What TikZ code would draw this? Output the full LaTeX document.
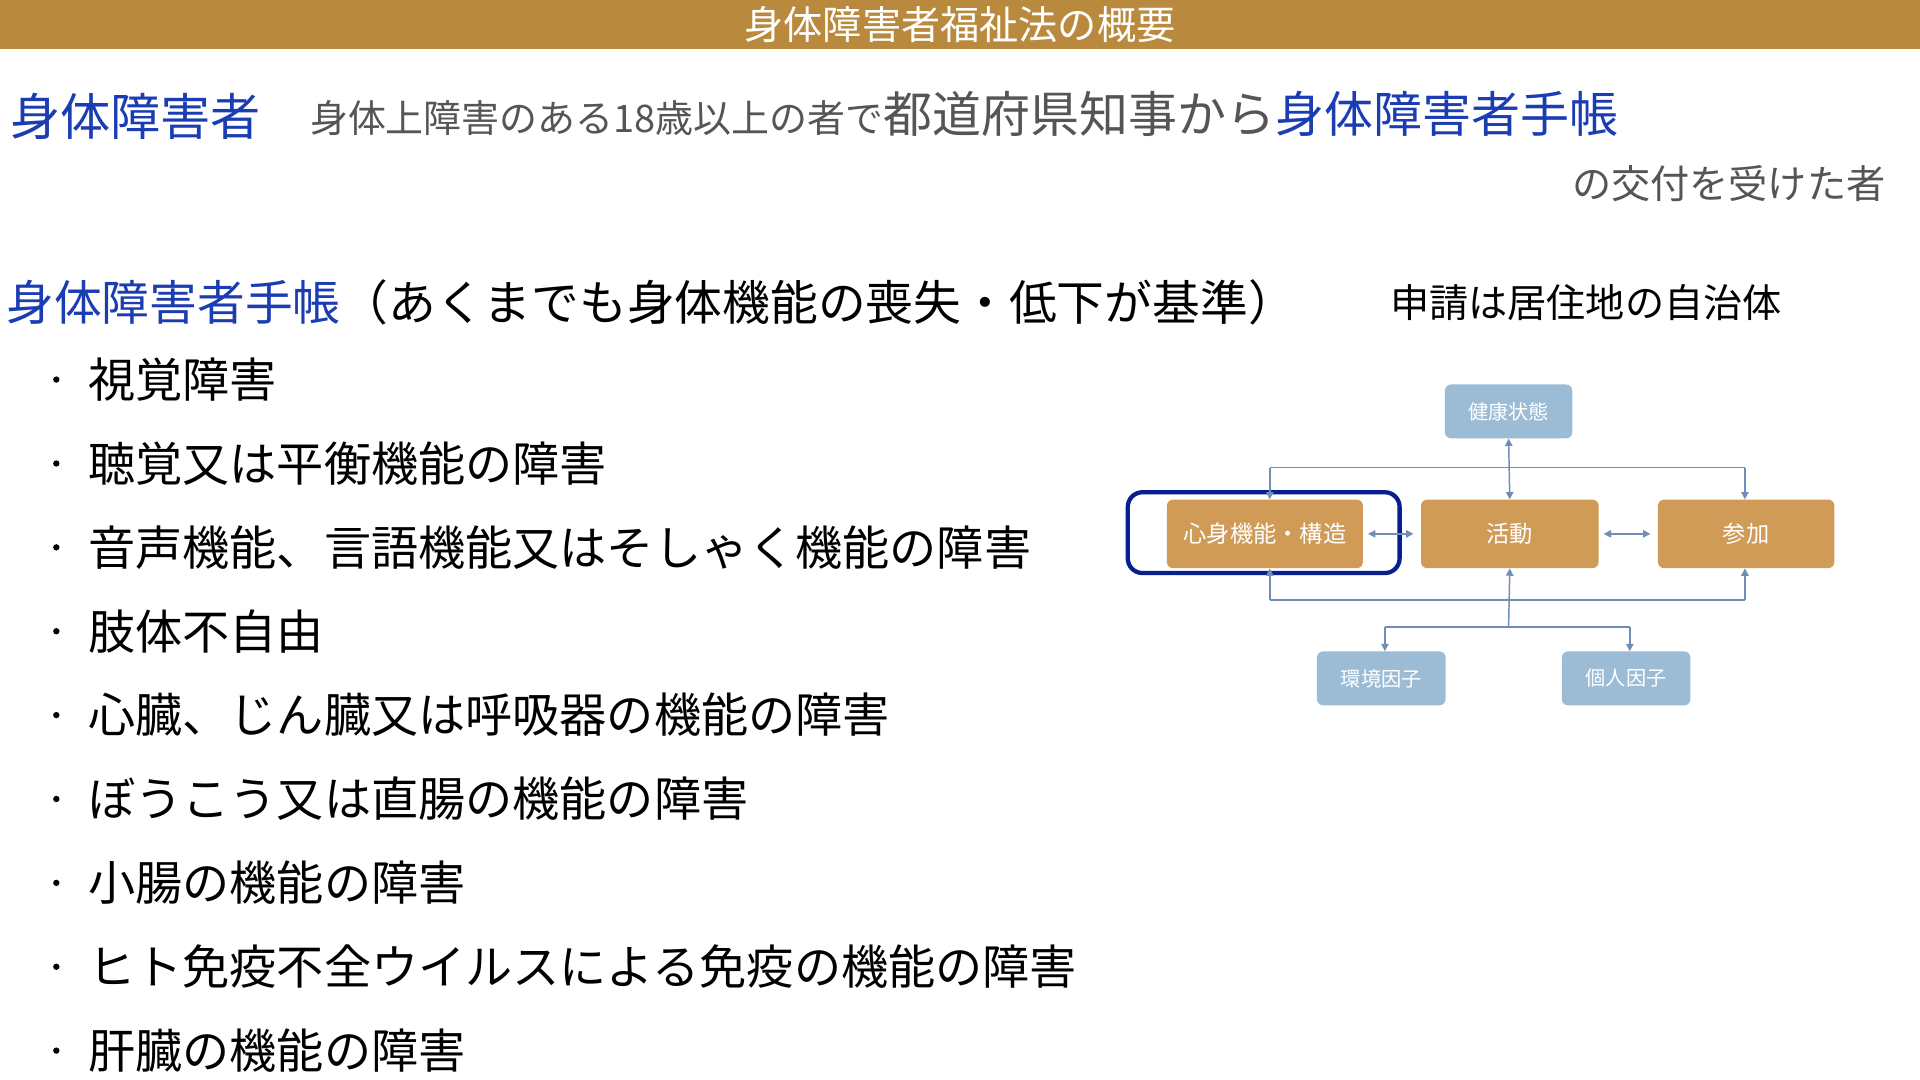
\documentclass[tikz,border=0pt]{standalone}
\usepackage{fontspec}
\setmainfont{Noto Sans CJK JP}
\usetikzlibrary{arrows.meta}
\definecolor{gold}{HTML}{B98A3E}
\definecolor{tblue}{HTML}{1B3DB4}
\definecolor{tgray}{HTML}{555555}
\definecolor{orb}{HTML}{D09B57}
\definecolor{lb}{HTML}{9CBCD6}
\definecolor{ln}{HTML}{6F8DB5}
\definecolor{navy}{HTML}{0A1F8F}
\newcommand{\fs}[1]{\fontsize{#1}{#1}\selectfont}
\begin{document}
\begin{tikzpicture}[x=1pt,y=-1pt,
  ob/.style={fill=orb,rounded corners=5pt,text=white,font=\fs{19},minimum height=56pt,inner sep=0pt},
  bb/.style={fill=lb,rounded corners=5pt,text=white,font=\fs{16.5},minimum width=105pt,minimum height=44pt,inner sep=0pt},
  bul/.style={anchor=west,font=\fs{38.5}},
  ar/.style={draw=ln,line width=1.2pt,-{Triangle[length=6pt,width=6pt]}},
  ln2/.style={draw=ln,line width=1.2pt}]
\useasboundingbox (0,0) rectangle (1568,882);
\fill[white] (0,0) rectangle (1568,882);
\fill[gold] (0,0) rectangle (1568,40);
\node[text=white,font=\fs{32}] (title) at (784,20) {身体障害者福祉法の概要};
\node[anchor=west,text=tblue,font=\fs{41},inner sep=0pt] (d1) at (8,95) {身体障害者};
\node[anchor=base west,inner sep=0pt] (d2) at (253,108) {\color{tgray}\fs{31}身体上障害のある18歳以上の者で\fs{40}都道府県知事から\color{tblue}身体障害者手帳};
\node[anchor=east,text=tgray,font=\fs{32},inner sep=0pt] (d3) at (1540,150) {の交付を受けた者};
\node[anchor=west,inner sep=0pt,font=\fs{39}] (h2) at (5,247) {\color{tblue}身体障害者手帳\color{black}（あくまでも身体機能の喪失・低下が基準）};
\node[anchor=west,inner sep=0pt,font=\fs{32}] (app) at (1135,247) {申請は居住地の自治体};
\foreach \t [count=\i] in {視覚障害,聴覚又は平衡機能の障害,音声機能、言語機能又はそしゃく機能の障害,肢体不自由,心臓、じん臓又は呼吸器の機能の障害,ぼうこう又は直腸の機能の障害,小腸の機能の障害,ヒト免疫不全ウイルスによる免疫の機能の障害,肝臓の機能の障害}{
  \node[bul,inner sep=0pt] (b\i) at (72,{310+68.5*(\i-1)}) {\t};
  \fill (46,{310+68.5*(\i-1)}) circle (2.6pt);
}
\node[bb,minimum width=104pt] (health) at (1232,336) {健康状態};
\node[ob,minimum width=160pt] (body) at (1033,436) {心身機能・構造};
\node[ob,minimum width=145pt] (act) at (1233,436) {活動};
\node[ob,minimum width=144pt] (part) at (1426,436) {参加};
\node[bb] (env) at (1128,554) {環境因子};
\node[bb] (pers) at (1328,554) {個人因子};
\draw[navy,line width=3.5pt,rounded corners=12pt] (921,402) rectangle (1143,468);
\coordinate (t1) at (1037,382); \coordinate (t2) at (1425,382);
\coordinate (u1) at (1037,490); \coordinate (u2) at (1425,490);
\coordinate (m1) at (1232,490); \coordinate (m2) at (1232,512);
\coordinate (e1) at (1131,512); \coordinate (e2) at (1331,512);
\draw[ar,{Triangle[length=6pt,width=6pt]}-{Triangle[length=6pt,width=6pt]}] (health.south) -- (act.north);
\draw[ln2] (t1) -- (t2);
\draw[ar] (t1) -- (t1 |- body.north);
\draw[ar] (t2) -- (t2 |- part.north);
\draw[ln2] (u1) -- (u2);
\draw[ar] (u1) -- (u1 |- body.south);
\draw[ar] (u2) -- (u2 |- part.south);
\draw[ar] (m2) -- (act.south);
\draw[ln2] (e1) -- (e2);
\draw[ar] (e1) -- (env.north -| e1);
\draw[ar] (e2) -- (pers.north -| e2);
\draw[ar,{Triangle[length=6pt,width=6pt]}-{Triangle[length=6pt,width=6pt]}] ([xshift=4pt]body.east) -- ([xshift=-6pt]act.west);
\draw[ar,{Triangle[length=6pt,width=6pt]}-{Triangle[length=6pt,width=6pt]}] ([xshift=4pt]act.east) -- ([xshift=-6pt]part.west);
\end{tikzpicture}
\end{document}
